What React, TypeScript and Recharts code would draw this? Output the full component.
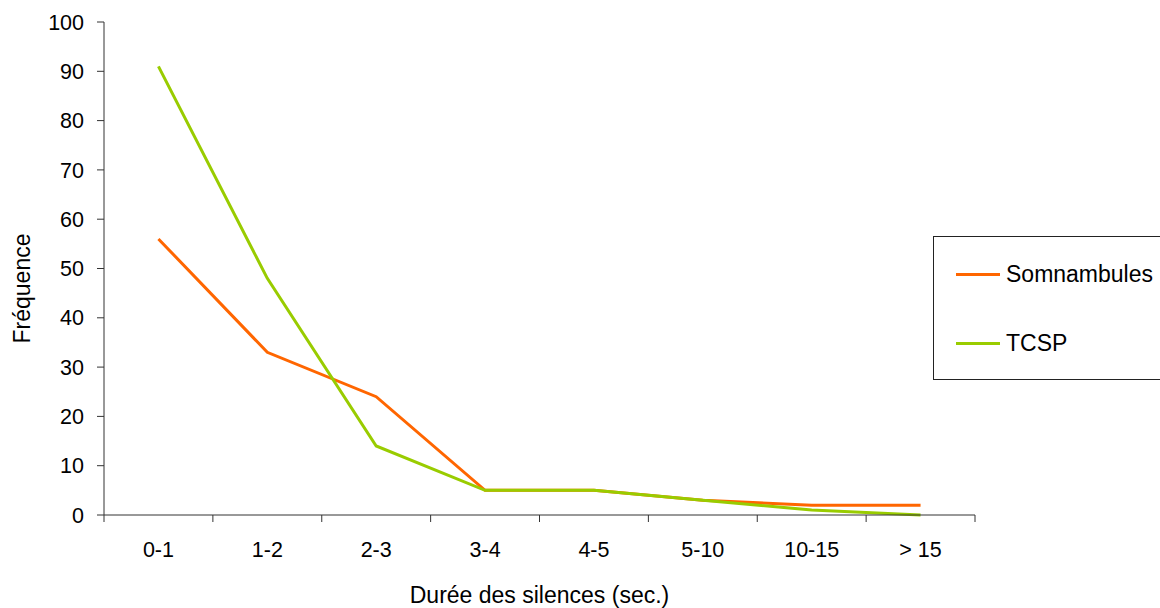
import React from "react";
import { LineChart, Line, XAxis, YAxis } from "recharts";

const categories = ["0-1", "1-2", "2-3", "3-4", "4-5", "5-10", "10-15", "> 15"];
const somnambules = [56, 33, 24, 5, 5, 3, 2, 2];
const tcsp = [91, 48, 14, 5, 5, 3, 1, 0];
const yTicks = [0, 10, 20, 30, 40, 50, 60, 70, 80, 90, 100];

const series = [
  { key: "somnambules", name: "Somnambules", color: "#FF6600" },
  { key: "tcsp", name: "TCSP", color: "#99CC00" },
];

const data = categories.map((cat, i) => ({
  cat,
  somnambules: somnambules[i],
  tcsp: tcsp[i],
}));

const W = 1160;
const H = 608;
const xAxisHeight = 30;
const margin = { top: 22, right: 185, bottom: 93 - xAxisHeight, left: 0 };
const yAxisWidth = 104;
const font = "'Liberation Sans', Arial, sans-serif";
const tickFont = 21.5;
const titleFont = 23;
const axisColor = "#333";

const plotW = W - margin.left - margin.right - yAxisWidth;
const halfBand = plotW / categories.length / 2;

function XTick({ x, y, payload, index }: any) {
  const off = payload?.offset ?? halfBand;
  const last = index === categories.length - 1;
  return (
    <g>
      <line x1={x - off} x2={x - off} y1={y} y2={y + 7} stroke={axisColor} />
      {last && <line x1={x + off} x2={x + off} y1={y} y2={y + 7} stroke={axisColor} />}
      <text x={x} y={y + 42} textAnchor="middle" fill="#000" fontSize={tickFont} fontFamily={font}>
        {payload.value}
      </text>
    </g>
  );
}

export default function App() {
  return (
    <div style={{ position: "absolute", left: 0, top: 0, width: W, height: H, overflow: "hidden", background: "#fff" }}>
      <LineChart width={W} height={H} data={data} margin={margin}>
        <XAxis
          dataKey="cat"
          scale="band"
          height={xAxisHeight}
          interval={0}
          tickSize={0}
          tickMargin={0}
          tickLine={false}
          axisLine={{ stroke: axisColor }}
          tick={<XTick />}
          label={(p: any) => {
            const vb = p.viewBox;
            return (
              <text x={vb.x + vb.width / 2} y={603} textAnchor="middle" fontSize={titleFont} fontFamily={font} fill="#000">
                Durée des silences (sec.)
              </text>
            );
          }}
        />
        <YAxis
          width={yAxisWidth}
          domain={[0, 100]}
          ticks={yTicks}
          interval={0}
          tickSize={7}
          tickMargin={13}
          tickLine={{ stroke: axisColor }}
          axisLine={{ stroke: axisColor }}
          tick={{ fill: "#000", fontSize: tickFont, fontFamily: font }}
          label={(p: any) => {
            const vb = p.viewBox;
            const cx = 22;
            const cy = vb.y + vb.height / 2 + 20;
            return (
              <text x={cx} y={cy} transform={`rotate(-90 ${cx} ${cy})`} textAnchor="middle" dominantBaseline="central" fontSize={titleFont} fontFamily={font} fill="#000">
                Fréquence
              </text>
            );
          }}
        />
        {series.map((s) => (
          <Line
            key={s.key}
            dataKey={s.key}
            name={s.name}
            stroke={s.color}
            strokeWidth={3}
            dot={false}
            activeDot={false}
            isAnimationActive={false}
          />
        ))}
      </LineChart>
      <div
        style={{
          position: "absolute",
          left: 933,
          top: 236,
          width: 240,
          height: 144,
          border: "1px solid #222",
          boxSizing: "border-box",
          fontFamily: font,
          fontSize: titleFont,
        }}
      >
        {series.map((s, i) => (
          <div key={s.key} style={{ position: "absolute", left: 22, top: 37 + i * 69 - 14, height: 28, display: "flex", alignItems: "center" }}>
            <span style={{ display: "inline-block", width: 44, height: 3, background: s.color, marginRight: 6 }} />
            <span>{s.name}</span>
          </div>
        ))}
      </div>
    </div>
  );
}
